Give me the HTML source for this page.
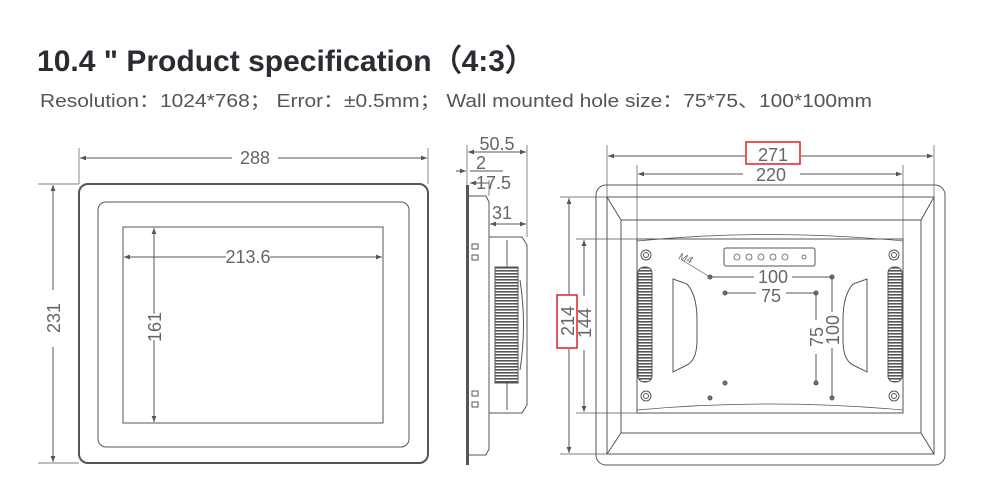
<!DOCTYPE html>
<html><head><meta charset="utf-8"><style>
html,body{margin:0;padding:0;background:#fff;}
svg{display:block;}
text{font-family:"Liberation Sans",Arial,sans-serif;fill:#666;}
</style></head><body>
<svg width="1000" height="500" viewBox="0 0 1000 500" xmlns="http://www.w3.org/2000/svg">
<defs>
<marker id="a" viewBox="0 0 10 10" refX="10" refY="5" markerWidth="6" markerHeight="6" orient="auto-start-reverse"><path d="M0,1 L10,5 L0,9z" fill="#555"/></marker>
<pattern id="fin" width="4" height="3" patternUnits="userSpaceOnUse"><rect width="4" height="3" fill="#fff"/><rect width="4" height="1.6" fill="#555"/></pattern>
</defs>
<text x="37" y="71" font-size="30" font-weight="bold" style="fill:#2b2b33" textLength="498" lengthAdjust="spacingAndGlyphs" font-family="Liberation Sans,Noto Sans CJK SC,sans-serif">10.4 " Product specification（4:3）</text>
<text x="40" y="107" font-size="18" style="fill:#555" textLength="832" lengthAdjust="spacingAndGlyphs" font-family="Liberation Sans,Noto Sans CJK SC,sans-serif">Resolution：1024*768；  Error：±0.5mm；  Wall mounted hole size：75*75、100*100mm</text>

<g fill="none" stroke="#555" stroke-width="1">
<rect x="79" y="184" width="349" height="279" rx="9" stroke-width="2"/>
<rect x="98" y="202" width="311" height="245" rx="8"/>
<rect x="123" y="227" width="260" height="196"/>
<line x1="79" y1="148" x2="79" y2="184" stroke-width="0.7"/>
<line x1="428" y1="148" x2="428" y2="184" stroke-width="0.7"/>
<line x1="80" y1="158" x2="232" y2="158" marker-start="url(#a)"/>
<line x1="278" y1="158" x2="427" y2="158" marker-end="url(#a)"/>
<line x1="38" y1="184" x2="79" y2="184" stroke-width="0.7"/>
<line x1="38" y1="463" x2="79" y2="463" stroke-width="0.7"/>
<line x1="53" y1="185" x2="53" y2="290" marker-start="url(#a)"/>
<line x1="53" y1="347" x2="53" y2="462" marker-end="url(#a)"/>
<line x1="124" y1="257" x2="226" y2="257" marker-start="url(#a)"/>
<line x1="270" y1="257" x2="382" y2="257" marker-end="url(#a)"/>
<line x1="154" y1="228" x2="154" y2="314" marker-start="url(#a)"/>
<line x1="154" y1="340" x2="154" y2="422" marker-end="url(#a)"/>

<rect x="466" y="185" width="3" height="280" fill="#555" stroke="none"/>
<path d="M469 196 L486 196 L489 202 L489 449 L486 455 L469 455"/>
<path d="M489 237 L522 237 L527 245 L527 405 L522 413 L489 413"/>
<line x1="507" y1="240" x2="507" y2="410"/>
<rect x="495" y="267" width="23" height="116" fill="url(#fin)" stroke="#555"/>
<path d="M520 280 Q527 325 520 370"/>
<rect x="472" y="244" width="6" height="5"/><rect x="472" y="255" width="6" height="5"/>
<rect x="472" y="391" width="6" height="5"/><rect x="472" y="402" width="6" height="5"/>
<line x1="467" y1="145" x2="467" y2="185" stroke-width="0.7"/>
<line x1="527" y1="145" x2="527" y2="237" stroke-width="0.7"/>
<line x1="468" y1="152" x2="526" y2="152" marker-start="url(#a)" marker-end="url(#a)"/>
<line x1="456" y1="171" x2="466" y2="171" marker-end="url(#a)"/>
<line x1="470" y1="171" x2="503" y2="171"/>
<line x1="470" y1="183" x2="489" y2="183" marker-start="url(#a)"/>
<line x1="489" y1="180" x2="489" y2="196" stroke-width="0.7"/>
<line x1="490" y1="224" x2="526" y2="224" marker-start="url(#a)" marker-end="url(#a)"/>

<rect x="596" y="185" width="349" height="280" rx="10"/>
<rect x="607" y="197" width="327" height="257"/>
<rect x="621" y="220" width="300" height="213"/>
<line x1="607" y1="197" x2="621" y2="220"/><line x1="934" y1="197" x2="921" y2="220"/>
<line x1="607" y1="454" x2="621" y2="433"/><line x1="934" y1="454" x2="921" y2="433"/>
<rect x="637" y="239" width="266" height="174"/>
<path d="M637 241 Q770 228 903 241" stroke-width="0.7"/>
<path d="M637 410 Q770 398 903 410" stroke-width="0.7"/>
<rect x="724" y="248" width="91" height="18" rx="2"/>
<g stroke-width="0.8">
<circle cx="737" cy="257" r="3"/><circle cx="749" cy="257" r="3"/><circle cx="761" cy="257" r="3"/><circle cx="773" cy="257" r="3"/><circle cx="785" cy="257" r="3"/><circle cx="804" cy="257" r="2"/>
</g>
<circle cx="646" cy="255" r="5"/><circle cx="646" cy="255" r="2.5"/>
<circle cx="894" cy="255" r="5"/><circle cx="894" cy="255" r="2.5"/>
<circle cx="646" cy="396" r="5"/><circle cx="646" cy="396" r="2.5"/>
<circle cx="894" cy="396" r="5"/><circle cx="894" cy="396" r="2.5"/>
<rect x="638" y="267" width="14" height="115" rx="6" fill="url(#fin)"/>
<rect x="888" y="267" width="14" height="115" rx="6" fill="url(#fin)"/>
<path d="M673 279 L687 284 Q697 295 697 320 L697 340 Q697 360 687 365 L673 372 Z"/>
<path d="M867 279 L853 284 Q843 295 843 320 L843 340 Q843 360 853 365 L867 372 Z"/>
<g fill="#777"><circle cx="710" cy="277" r="2"/><circle cx="832" cy="277" r="2"/><circle cx="725" cy="293" r="2"/><circle cx="816" cy="293" r="2"/><circle cx="725" cy="383" r="2"/><circle cx="816" cy="383" r="2"/><circle cx="710" cy="398" r="2"/><circle cx="832" cy="398" r="2"/></g>
<line x1="682" y1="260" x2="710" y2="277" stroke-width="0.7"/>
<line x1="710" y1="277" x2="754" y2="277"/><line x1="792" y1="277" x2="832" y2="277"/>
<line x1="725" y1="293" x2="756" y2="293"/><line x1="786" y1="293" x2="816" y2="293"/>
<line x1="816" y1="293" x2="816" y2="320"/><line x1="816" y1="354" x2="816" y2="383"/>
<line x1="832" y1="277" x2="832" y2="312"/><line x1="832" y1="348" x2="832" y2="398"/>
<line x1="607" y1="145" x2="607" y2="197" stroke-width="0.7"/>
<line x1="934" y1="145" x2="934" y2="197" stroke-width="0.7"/>
<line x1="637" y1="165" x2="637" y2="239" stroke-width="0.7"/>
<line x1="903" y1="165" x2="903" y2="239" stroke-width="0.7"/>
<line x1="608" y1="156" x2="745" y2="156" marker-start="url(#a)"/>
<line x1="801" y1="156" x2="933" y2="156" marker-end="url(#a)"/>
<line x1="638" y1="174" x2="743" y2="174" marker-start="url(#a)"/>
<line x1="800" y1="174" x2="902" y2="174" marker-end="url(#a)"/>
<line x1="560" y1="197" x2="607" y2="197" stroke-width="0.7"/>
<line x1="560" y1="454" x2="607" y2="454" stroke-width="0.7"/>
<line x1="576" y1="239" x2="637" y2="239" stroke-width="0.7"/>
<line x1="576" y1="413" x2="637" y2="413" stroke-width="0.7"/>
<line x1="569" y1="198" x2="569" y2="294" marker-start="url(#a)"/>
<line x1="569" y1="349" x2="569" y2="453" marker-end="url(#a)"/>
<line x1="584" y1="240" x2="584" y2="296" marker-start="url(#a)"/>
<line x1="584" y1="350" x2="584" y2="412" marker-end="url(#a)"/>
</g>
<rect x="746" y="142" width="54" height="22" fill="none" stroke="#e02020" stroke-width="1.5"/>
<rect x="557" y="295" width="20" height="53" fill="none" stroke="#e02020" stroke-width="1.5"/>

<g font-size="18">
<text x="255" y="164" text-anchor="middle">288</text>
<text x="248" y="263" text-anchor="middle">213.6</text>
<text transform="translate(60,318) rotate(-90)" text-anchor="middle">231</text>
<text transform="translate(161,327) rotate(-90)" text-anchor="middle">161</text>
<text x="497" y="150" text-anchor="middle">50.5</text>
<text x="476" y="169">2</text>
<text x="476" y="189">17.5</text>
<text x="492" y="219">31</text>
<text x="773" y="161" text-anchor="middle">271</text>
<text x="771" y="181" text-anchor="middle">220</text>
<text transform="translate(574,321) rotate(-90)" text-anchor="middle">214</text>
<text transform="translate(591,323) rotate(-90)" text-anchor="middle">144</text>
<text x="773" y="283" text-anchor="middle">100</text>
<text x="771" y="302" text-anchor="middle">75</text>
<text transform="translate(823,337) rotate(-90)" text-anchor="middle">75</text>
<text transform="translate(839,330) rotate(-90)" text-anchor="middle">100</text>
</g>
<text transform="translate(678,259) rotate(20)" font-size="10" font-style="italic" font-family="Liberation Serif,serif">M4</text>
</svg>
</body></html>
